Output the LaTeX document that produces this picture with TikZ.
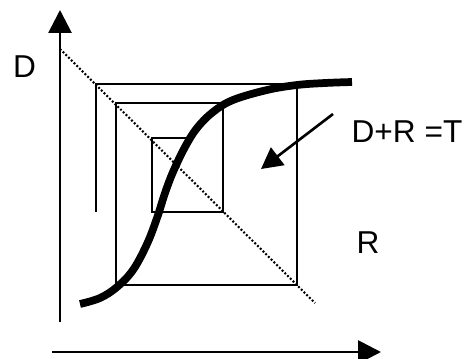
\documentclass[tikz,border=0pt]{standalone}
\usepackage{fontspec}
\setmainfont{Liberation Sans}
\usetikzlibrary{arrows.meta}

\begin{document}
\begin{tikzpicture}[x=0.02cm, y=-0.02cm,
    axis/.style={line width=1.6pt, -{Triangle[length=13pt, width=13pt]}},
    web/.style={line width=1.4pt, line join=miter},
    lbl/.style={font=\fontsize{18}{20}\selectfont, inner sep=0pt}]
    \useasboundingbox (0,0) rectangle (465,358);

    % --- Axes ---
    \coordinate (Dlow) at (60,322);
    \coordinate (Dhigh) at (60,10);
    \coordinate (Rlow) at (52,352);
    \coordinate (Rhigh) at (381,352);
    \draw[axis] (Dlow) -- (Dhigh);
    \draw[axis] (Rlow) -- (Rhigh);

    % --- Diagonal D+R = T, dotted ---
    \coordinate (Tstart) at (60,49);
    \coordinate (Tend) at (315,303);
    \draw[line width=1.2pt, dash pattern=on 1.1pt off 1.1pt] (Tstart) -- (Tend);

    % --- Cobweb spiral towards the fixed point ---
    \draw[web] (96,212) -- (96,84) -- (297,84) -- (297,285) -- (116,285)
        -- (116,103) -- (223,103) -- (223,212) -- (152,212) -- (152,138)
        -- (188,138);

    % --- Sigmoid response curve ---
    \draw[line width=4.4pt] plot[smooth, tension=0.6] coordinates {
        (80,304) (100,298) (117,287) (133,270) (147,244) (157,218)
        (165,193) (173,172) (185,147) (197,128) (213,112) (233,100)
        (267,90) (297,85) (325,83) (352,82)};

    % --- Labels ---
    \node[lbl] (labD) at (24.5,67) {D};
    \node[lbl] (labR) at (368,243) {R};
    \node[lbl] (labT) at (407,132) {D+R =T};

    % --- Pointer to the diagonal ---
    \coordinate (ptrA) at (333,114);
    \coordinate (ptrB) at (261,169);
    \draw[line width=1.5pt, -{Triangle[length=12pt, width=12.5pt]}] (ptrA) -- (ptrB);
\end{tikzpicture}
\end{document}
